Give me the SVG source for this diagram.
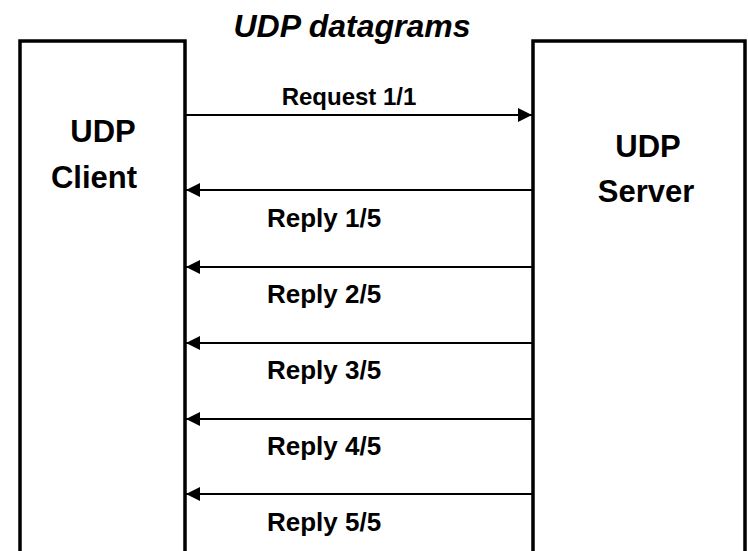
<svg xmlns="http://www.w3.org/2000/svg" width="748" height="551" viewBox="0 0 748 551">
  <style>
    .box { fill: #fff; stroke: #000; stroke-width: 3.5; }
    .lbl { font-family: "Liberation Sans", Arial, sans-serif; font-weight: bold; fill: #000; }
    .node { font-size: 31px; text-anchor: middle; }
    .msg { font-size: 26px; }
    .title { font-size: 32px; font-style: italic; text-anchor: middle; }
    .conn line { stroke: #000; stroke-width: 2; }
  </style>
  <defs>
    <marker id="ah" viewBox="0 0 10 10" refX="10" refY="5" markerWidth="15" markerHeight="14" markerUnits="userSpaceOnUse" orient="auto">
      <path d="M0,0 L10,5 L0,10 z" fill="#000"/>
    </marker>
  </defs>
  <rect width="748" height="551" fill="#fff"/>
  <text class="lbl title" x="352" y="37">UDP datagrams</text>
  <g id="client">
    <path class="box" d="M20,560 V41 H185 V560"/>
    <text class="lbl node" x="103" y="142">UDP</text>
    <text class="lbl node" x="94" y="188">Client</text>
  </g>
  <g id="server">
    <path class="box" d="M533,560 V41 H745 V560"/>
    <text class="lbl node" x="648" y="157">UDP</text>
    <text class="lbl node" x="646" y="202">Server</text>
  </g>
  <g class="conn">
    <line x1="186" y1="115" x2="532" y2="115" marker-end="url(#ah)"/>
    <line x1="532" y1="190" x2="186" y2="190" marker-end="url(#ah)"/>
    <line x1="532" y1="267" x2="186" y2="267" marker-end="url(#ah)"/>
    <line x1="532" y1="343" x2="186" y2="343" marker-end="url(#ah)"/>
    <line x1="532" y1="419" x2="186" y2="419" marker-end="url(#ah)"/>
    <line x1="532" y1="494" x2="186" y2="494" marker-end="url(#ah)"/>
  </g>
  <text class="lbl" x="349" y="105" font-size="24" text-anchor="middle">Request 1/1</text>
  <text class="lbl msg" x="267" y="227">Reply 1/5</text>
  <text class="lbl msg" x="267" y="303">Reply 2/5</text>
  <text class="lbl msg" x="267" y="379">Reply 3/5</text>
  <text class="lbl msg" x="267" y="455">Reply 4/5</text>
  <text class="lbl msg" x="267" y="531">Reply 5/5</text>
</svg>
